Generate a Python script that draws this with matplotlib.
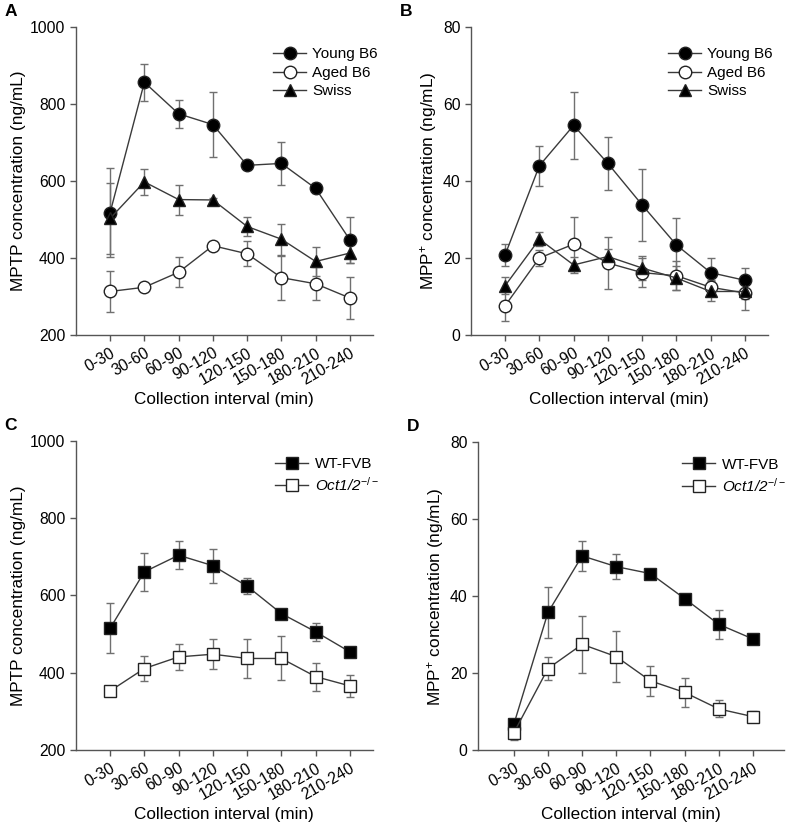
import numpy as np
import matplotlib
matplotlib.use("Agg")
import matplotlib.pyplot as plt

plt.rcParams['font.family'] = ['Liberation Sans', 'DejaVu Sans']
plt.rcParams['mathtext.fontset'] = 'custom'
plt.rcParams['mathtext.rm'] = 'Liberation Sans'
plt.rcParams['mathtext.it'] = 'Liberation Sans:italic'

intervals = ["0-30", "30-60", "60-90", "90-120", "120-150", "150-180", "180-210", "210-240"]

# Panel A: MPTP, strains
a_young = [518, 857, 775, 747, 641, 646, 581, 447]
a_young_err = [115, 48, 37, 85, 5, 57, 13, 60]
a_aged = [313, 324, 363, 432, 411, 349, 333, 296]
a_aged_err = [54, 5, 39, 5, 33, 57, 43, 54]
a_swiss = [503, 598, 552, 551, 482, 449, 391, 413]
a_swiss_err = [93, 33, 39, 5, 24, 40, 37, 25]

# Panel B: MPP+, strains
b_young = [20.8, 44.0, 54.5, 44.6, 33.8, 23.4, 16.2, 14.2]
b_young_err = [2.8, 5.2, 8.8, 7.0, 9.4, 7.0, 3.8, 3.2]
b_aged = [7.6, 20.0, 23.6, 18.7, 16.2, 15.4, 12.4, 10.9]
b_aged_err = [3.9, 2.0, 7.0, 6.8, 3.8, 3.8, 2.0, 4.5]
b_swiss = [12.8, 24.9, 18.2, 20.4, 17.4, 14.8, 11.3, 11.3]
b_swiss_err = [2.2, 1.8, 2.0, 2.0, 3.2, 3.0, 2.6, 2.0]

# Panel C: MPTP, WT vs knockout
c_wt = [515, 661, 704, 677, 624, 553, 506, 454]
c_wt_err = [65, 50, 36, 44, 20, 5, 24, 5]
c_ko = [353, 411, 441, 448, 437, 437, 390, 366]
c_ko_err = [5, 32, 34, 39, 51, 57, 36, 29]

# Panel D: MPP+, WT vs knockout
d_wt = [6.7, 35.8, 50.5, 47.7, 45.9, 39.4, 32.7, 28.9]
d_wt_err = [0.8, 6.7, 3.8, 3.3, 0.8, 1.0, 3.7, 0.8]
d_ko = [4.5, 21.2, 27.5, 24.3, 18.0, 15.0, 10.7, 8.7]
d_ko_err = [1.9, 3.0, 7.4, 6.7, 3.9, 3.8, 2.2, 1.5]

LINE = "#3a3a3a"
ERR = "#707070"


def series(ax, y, err, marker, filled, label, ms):
    x = np.arange(len(intervals))
    ax.errorbar(x, y, yerr=err, fmt="none", ecolor=ERR, elinewidth=1.0,
                capsize=3, capthick=1.0, zorder=1)
    ax.plot(x, y, color=LINE, lw=1.0, marker=marker, ms=ms,
            mfc="black" if filled else "white", mec="#222222", mew=1.0,
            label=label, zorder=3)


def style(ax, ylim, yticks, ylabel, letter, xlim):
    ax.set_xlim(*xlim)
    ax.set_ylim(*ylim)
    ax.set_yticks(yticks)
    ax.set_xticks(np.arange(len(intervals)))
    ax.set_xticklabels(intervals, rotation=30, ha="right", rotation_mode="anchor")
    for s in ["top", "right"]:
        ax.spines[s].set_visible(False)
    for s in ["left", "bottom"]:
        ax.spines[s].set_color("#555555")
        ax.spines[s].set_linewidth(1.0)
    ax.tick_params(direction="out", length=4, color="#555555", labelsize=11.3, width=1.0)
    ax.set_ylabel(ylabel, fontsize=12.4, labelpad=3)
    ax.set_xlabel("Collection interval (min)", fontsize=12.3, labelpad=3)
    fig = ax.figure
    bb = ax.get_position()
    fig.text(bb.x0 - 0.09, bb.y1 + 0.028, letter, fontsize=12.5,
             fontweight="bold", va="top", ha="left")


def legend(ax, x, y, italic_rows=()):
    leg = ax.legend(loc="upper left", bbox_to_anchor=(x, y), frameon=False,
                    fontsize=11, numpoints=1, handlelength=2.2, handletextpad=0.4,
                    labelspacing=0.3, borderaxespad=0, borderpad=0)
    for i in italic_rows:
        leg.get_texts()[i].set_fontstyle("italic")


fig = plt.figure(figsize=(7.9, 8.27), dpi=100)
axA = fig.add_axes([0.096, 0.595, 0.376, 0.372])
axB = fig.add_axes([0.596, 0.595, 0.376, 0.372])
axC = fig.add_axes([0.096, 0.093, 0.376, 0.374])
axD = fig.add_axes([0.605, 0.093, 0.387, 0.372])

series(axA, a_young, a_young_err, "o", True, "Young B6", 9)
series(axA, a_aged, a_aged_err, "o", False, "Aged B6", 9)
series(axA, a_swiss, a_swiss_err, "^", True, "Swiss", 9)
style(axA, (200, 1000), range(200, 1001, 200), "MPTP concentration (ng/mL)", "A", (-1.0, 7.67))
legend(axA, 0.663, 0.935)

series(axB, b_young, b_young_err, "o", True, "Young B6", 9)
series(axB, b_aged, b_aged_err, "o", False, "Aged B6", 9)
series(axB, b_swiss, b_swiss_err, "^", True, "Swiss", 9)
style(axB, (0, 80), range(0, 81, 20), "MPP$^{+}$ concentration (ng/mL)", "B", (-1.0, 7.67))
legend(axB, 0.663, 0.935)

ko_label = "Oct1/2$^{-/-}$"
series(axC, c_wt, c_wt_err, "s", True, "WT-FVB", 8)
series(axC, c_ko, c_ko_err, "s", False, ko_label, 8)
style(axC, (200, 1000), range(200, 1001, 200), "MPTP concentration (ng/mL)", "C", (-1.0, 7.67))
legend(axC, 0.67, 0.948, italic_rows=(1,))

series(axD, d_wt, d_wt_err, "s", True, "WT-FVB", 8)
series(axD, d_ko, d_ko_err, "s", False, ko_label, 8)
style(axD, (0, 80), range(0, 81, 20), "MPP$^{+}$ concentration (ng/mL)", "D", (-1.05, 7.9))
legend(axD, 0.667, 0.95, italic_rows=(1,))

fig.savefig("out.png", dpi=100)
